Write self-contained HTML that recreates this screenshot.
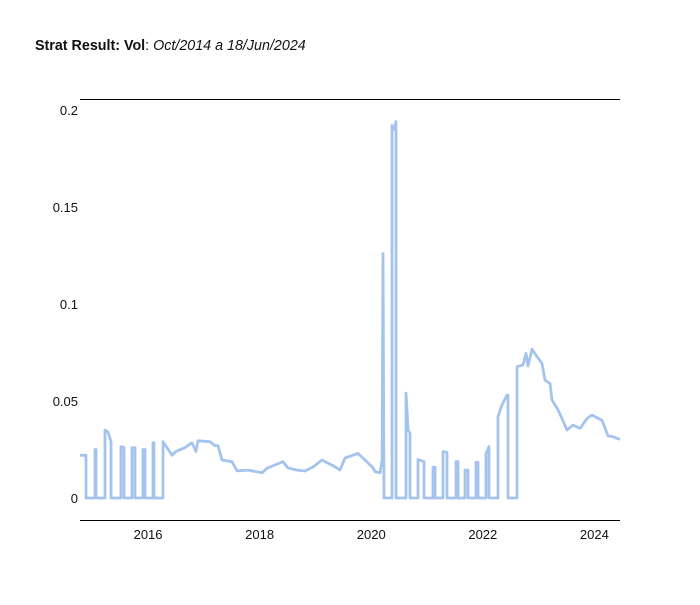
<!DOCTYPE html>
<html><head><meta charset="utf-8"><style>
body{margin:0;background:#fff;font-family:"Liberation Sans","DejaVu Sans",sans-serif;}
svg text{font-family:"Liberation Sans","DejaVu Sans",sans-serif;}
</style></head><body>
<svg id="chart" width="700" height="600" xmlns="http://www.w3.org/2000/svg">
<text x="35" y="50" font-size="14.3" fill="#111"><tspan font-weight="bold">Strat Result: Vol</tspan>: <tspan font-style="italic">Oct/2014 a 18/Jun/2024</tspan></text>
<line x1="80" y1="99.5" x2="620" y2="99.5" stroke="#000" stroke-width="1"/>
<line x1="80" y1="520.5" x2="620" y2="520.5" stroke="#000" stroke-width="1"/>
<g id="yticks"></g>
<g id="xticks"></g>
<path id="series" fill="none" stroke="#a4c4ee" stroke-width="2.8" stroke-linejoin="round"/>
</svg>
<script>
const dates=[2014.780,2014.888,2014.888,2015.049,2015.049,2015.067,2015.067,2015.228,2015.228,2015.282,2015.336,2015.336,2015.515,2015.515,2015.569,2015.569,2015.712,2015.712,2015.766,2015.766,2015.909,2015.909,2015.945,2015.945,2016.088,2016.088,2016.106,2016.106,2016.268,2016.268,2016.339,2016.429,2016.501,2016.662,2016.787,2016.859,2016.895,2017.110,2017.200,2017.254,2017.325,2017.504,2017.594,2017.791,2018.042,2018.132,2018.275,2018.419,2018.508,2018.669,2018.813,2018.956,2019.117,2019.225,2019.315,2019.440,2019.530,2019.763,2019.889,2020.032,2020.068,2020.158,2020.194,2020.211,2020.229,2020.373,2020.373,2020.409,2020.444,2020.444,2020.624,2020.624,2020.660,2020.695,2020.695,2020.839,2020.839,2020.946,2020.946,2021.108,2021.108,2021.144,2021.144,2021.287,2021.287,2021.358,2021.358,2021.520,2021.520,2021.556,2021.556,2021.681,2021.681,2021.735,2021.735,2021.878,2021.878,2021.914,2021.914,2022.058,2022.058,2022.111,2022.111,2022.273,2022.273,2022.344,2022.434,2022.452,2022.452,2022.613,2022.613,2022.721,2022.774,2022.810,2022.882,2022.971,2023.061,2023.115,2023.204,2023.240,2023.348,2023.419,2023.509,2023.616,2023.742,2023.867,2023.957,2024.136,2024.244,2024.333,2024.459];
const vols=[0.022,0.022,0,0,0.025,0.025,0,0,0.035,0.034,0.029,0,0,0.0265,0.026,0,0,0.026,0.026,0,0,0.025,0.025,0,0,0.0285,0.0285,0,0,0.029,0.026,0.022,0.024,0.026,0.0285,0.024,0.0295,0.029,0.027,0.027,0.0196,0.0187,0.014,0.0144,0.013,0.0153,0.017,0.0187,0.0155,0.0144,0.0139,0.016,0.0196,0.018,0.0167,0.0144,0.0206,0.023,0.0196,0.0155,0.0136,0.013,0.0196,0.126,0,0,0.192,0.19,0.194,0,0,0.054,0.035,0.0335,0,0,0.0199,0.0187,0,0,0.0158,0.0158,0,0,0.0239,0.0235,0,0,0.0187,0.0187,0,0,0.0144,0.0144,0,0,0.0184,0.0184,0,0,0.023,0.0265,0,0,0.042,0.048,0.053,0.053,0,0,0.0677,0.0686,0.0746,0.068,0.0767,0.0729,0.0694,0.0608,0.059,0.0505,0.0454,0.041,0.035,0.0376,0.0359,0.041,0.0428,0.040,0.032,0.0316,0.0302];
const yTickVals=[0,0.05,0.1,0.15,0.2];
const yTickLabels=["0","0.05","0.1","0.15","0.2"];
const xTickVals=[2016,2018,2020,2022,2024];
const xTickLabels=["2016","2018","2020","2022","2024"];
const X0=2014.78,X1=2024.459;
function xs(d){return 80+(d-X0)/(X1-X0)*540;}
function ys(v){return 498-v*1940;}
const NS="http://www.w3.org/2000/svg";
const yg=document.getElementById('yticks');
yTickVals.forEach((v,i)=>{
  const t=document.createElementNS(NS,'text');
  t.setAttribute('x',78);t.setAttribute('y',ys(v)+5);
  t.setAttribute('text-anchor','end');t.setAttribute('font-size','13');t.setAttribute('fill','#111');
  t.textContent=yTickLabels[i];
  
  
  yg.appendChild(t);
});
const xg=document.getElementById('xticks');
xTickVals.forEach((v,i)=>{
  const t=document.createElementNS(NS,'text');
  t.setAttribute('x',xs(v));t.setAttribute('y',539);
  t.setAttribute('text-anchor','middle');t.setAttribute('font-size','13');t.setAttribute('fill','#111');
  t.textContent=xTickLabels[i];
  
  
  xg.appendChild(t);
});
let d='';
dates.forEach((dt,i)=>{d+=(i?'L':'M')+xs(dt).toFixed(1)+','+ys(vols[i]).toFixed(1);});
document.getElementById('series').setAttribute('d',d);
</script>
</body></html>
